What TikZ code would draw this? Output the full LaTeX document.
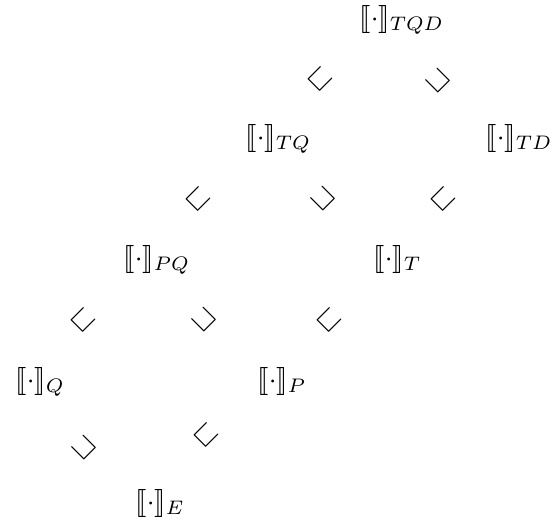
\documentclass[tikz,border=0pt]{standalone}
\usepackage{amssymb}
\usepackage{stmaryrd}
\usetikzlibrary{calc}
\begin{document}
\begin{tikzpicture}[x=1pt,y=-1pt,
  sem/.style={inner sep=0pt, anchor=base west, scale=2.8},
  rel/.style={inner sep=0pt, scale=3.0}]
\useasboundingbox (0,0) rectangle (556,522);
% bracket centres
\coordinate (cTQD) at (373,19);
\coordinate (cTQ) at (259,138);
\coordinate (cTD) at (499,138);
\coordinate (cPQ) at (137,259);
\coordinate (cT) at (387,259);
\coordinate (cQ) at (29,381);
\coordinate (cP) at (271,381);
\coordinate (cE) at (149,503);
% semantic nodes
\node[sem] (TQD) at ([xshift=-14pt,yshift=-7pt]cTQD) {$\llbracket\cdot\rrbracket_{TQD}$};
\node[sem] (TQ) at ([xshift=-14pt,yshift=-7pt]cTQ) {$\llbracket\cdot\rrbracket_{TQ}$};
\node[sem] (TD) at ([xshift=-14pt,yshift=-7pt]cTD) {$\llbracket\cdot\rrbracket_{TD}$};
\node[sem] (PQ) at ([xshift=-14pt,yshift=-7pt]cPQ) {$\llbracket\cdot\rrbracket_{PQ}$};
\node[sem] (T) at ([xshift=-14pt,yshift=-7pt]cT) {$\llbracket\cdot\rrbracket_{T}$};
\node[sem] (Q) at ([xshift=-14pt,yshift=-7pt]cQ) {$\llbracket\cdot\rrbracket_{Q}$};
\node[sem] (P) at ([xshift=-14pt,yshift=-7pt]cP) {$\llbracket\cdot\rrbracket_{P}$};
\node[sem] (E) at ([xshift=-14pt,yshift=-7pt]cE) {$\llbracket\cdot\rrbracket_{E}$};
% inclusion symbols
\node[rel, rotate=45] (r1) at ($(cTQ)!0.5!(cTQD)+(4,0)$) {$\sqsubset$};
\node[rel, rotate=135] (r2) at ($(cTD)!0.5!(cTQD)+(2,2)$) {$\sqsubset$};
\node[rel, rotate=45] (r3) at ($(cPQ)!0.5!(cTQ)$) {$\sqsubset$};
\node[rel, rotate=135] (r4) at ($(cT)!0.5!(cTQ)$) {$\sqsubset$};
\node[rel, rotate=45] (r5) at ($(cT)!0.5!(cTD)$) {$\sqsubset$};
\node[rel, rotate=45] (r6) at ($(cQ)!0.5!(cPQ)$) {$\sqsubset$};
\node[rel, rotate=135] (r7) at ($(cP)!0.5!(cPQ)$) {$\sqsubset$};
\node[rel, rotate=45] (r8) at ($(cP)!0.5!(cT)$) {$\sqsubset$};
\node[rel, rotate=135] (r9) at ($(cE)!0.5!(cQ)+(-5,6)$) {$\sqsubset$};
\node[rel, rotate=45] (r10) at ($(cE)!0.5!(cP)+(-4,-7)$) {$\sqsubset$};
\end{tikzpicture}
\end{document}
